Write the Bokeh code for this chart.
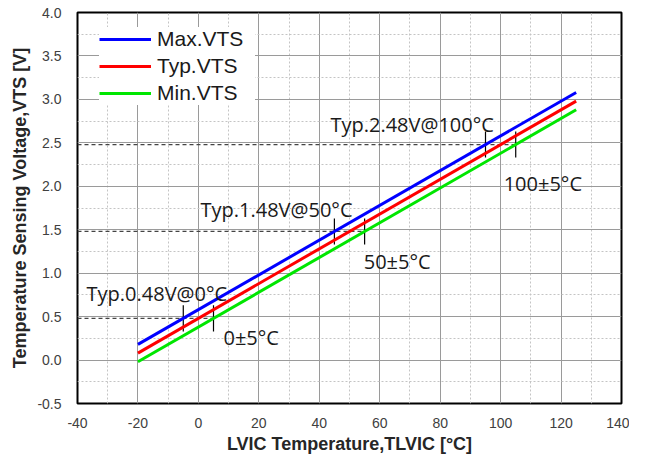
from bokeh.plotting import figure
from bokeh.models import Range1d, Legend, LegendItem, FixedTicker
from bokeh.embed import file_html
from bokeh.resources import INLINE
from bokeh.core.properties import value

# ---- data ----
temp = [-20, 125]
max_vts = [0.18, 3.08]
typ_vts = [0.08, 2.98]
min_vts = [-0.02, 2.88]

note_temp = [0, 50, 100]
note_vts = [0.48, 1.48, 2.48]
tol = 5
typ_labels = ["Typ.0.48V@0\u00b0C", "Typ.1.48V@50\u00b0C", "Typ.2.48V@100\u00b0C"]
tol_labels = ["0\u00b15\u00b0C", "50\u00b15\u00b0C", "100\u00b15\u00b0C"]

x_ticks = [-40, -20, 0, 20, 40, 60, 80, 100, 120, 140]
y_ticks = [-0.5, 0.0, 0.5, 1.0, 1.5, 2.0, 2.5, 3.0, 3.5, 4.0]

# ---- layout constants (label placement) ----
typ_label_x = [-37.0, 0.7, 43.7]
typ_label_y = [0.77, 1.73, 2.71]
tol_label_x = [8.3, 54.7, 101.0]
tol_label_y = [0.26, 1.14, 2.03]

p = figure(width=629, height=456, output_backend="svg", toolbar_location=None,
           x_range=Range1d(-40, 140), y_range=Range1d(-0.5, 4.0),
           min_border_left=77, min_border_right=8, min_border_top=12, min_border_bottom=48)

p.outline_line_color = "black"
p.outline_line_width = 2
p.background_fill_color = "white"

for ax in (p.xaxis[0], p.yaxis[0]):
    ax.axis_line_color = None
    ax.major_tick_line_color = None
    ax.minor_tick_line_color = None
    ax.major_label_text_font = "Liberation Sans"
    ax.major_label_text_font_size = "14px"
    ax.major_label_text_color = "#404040"
    ax.axis_label_text_font = "Liberation Sans"
    ax.axis_label_text_font_style = "bold"
    ax.axis_label_text_font_size = "18px"
    ax.axis_label_text_color = "#262626"

p.xaxis.ticker = FixedTicker(ticks=x_ticks, minor_ticks=[v + 10 for v in x_ticks[:-1]])
p.yaxis.ticker = FixedTicker(ticks=y_ticks, minor_ticks=[v + 0.25 for v in y_ticks[:-1]])
p.xaxis.major_label_overrides = {v: str(v) for v in x_ticks}
p.yaxis.major_label_overrides = {v: f"{v:.1f}" for v in y_ticks}
p.xaxis.major_label_standoff = 8
p.yaxis.major_label_standoff = 10
p.xaxis.axis_label = "LVIC Temperature,TLVIC [\u00b0C]"
p.yaxis.axis_label = "Temperature Sensing Voltage,VTS [V]"
p.xaxis.axis_label_standoff = 3
p.yaxis.axis_label_standoff = 4

p.xgrid.grid_line_color = "#9a9a9a"
p.ygrid.grid_line_color = "#9a9a9a"
p.xgrid.minor_grid_line_color = "#c4c4c4"
p.ygrid.minor_grid_line_color = "#c4c4c4"
p.xgrid.minor_grid_line_dash = "2 2"
p.ygrid.minor_grid_line_dash = "2 2"

# annotations: dashed reference lines and tolerance ticks
for t, v in zip(note_temp, note_vts):
    p.line([-40, t + tol], [v, v], line_color="#444444", line_dash="4 3", line_width=1.2)
    for dx in (-tol, tol):
        p.line([t + dx, t + dx], [v - 0.15, v + 0.15], line_color="black", line_width=1.2)

r_max = p.line(temp, max_vts, line_color="#0000ff", line_width=3)
r_typ = p.line(temp, typ_vts, line_color="#ff0000", line_width=3)
r_min = p.line(temp, min_vts, line_color="#00e600", line_width=3)

p.text(x=typ_label_x, y=typ_label_y, text=typ_labels, text_font=value("Open Sans"),
       text_font_size="20px", text_color="#1a1a1a", text_baseline="alphabetic")
p.text(x=tol_label_x, y=tol_label_y, text=tol_labels, text_font=value("Open Sans"),
       text_font_size="20px", text_color="#1a1a1a", text_baseline="alphabetic")

legend = Legend(items=[LegendItem(label="Max.VTS", renderers=[r_max]),
                       LegendItem(label="Typ.VTS", renderers=[r_typ]),
                       LegendItem(label="Min.VTS", renderers=[r_min])],
                location=(22, 298))
legend.margin = 0
legend.padding = 12
legend.spacing = 3
legend.glyph_width = 52
legend.label_standoff = 6
legend.label_width = 98
legend.label_text_font = "Liberation Sans"
legend.label_text_font_size = "21px"
legend.label_text_color = "#1a1a1a"
legend.border_line_color = None
legend.background_fill_color = "white"
legend.background_fill_alpha = 1.0
p.add_layout(legend, "center")

open("out.html", "w").write(file_html(p, INLINE))
